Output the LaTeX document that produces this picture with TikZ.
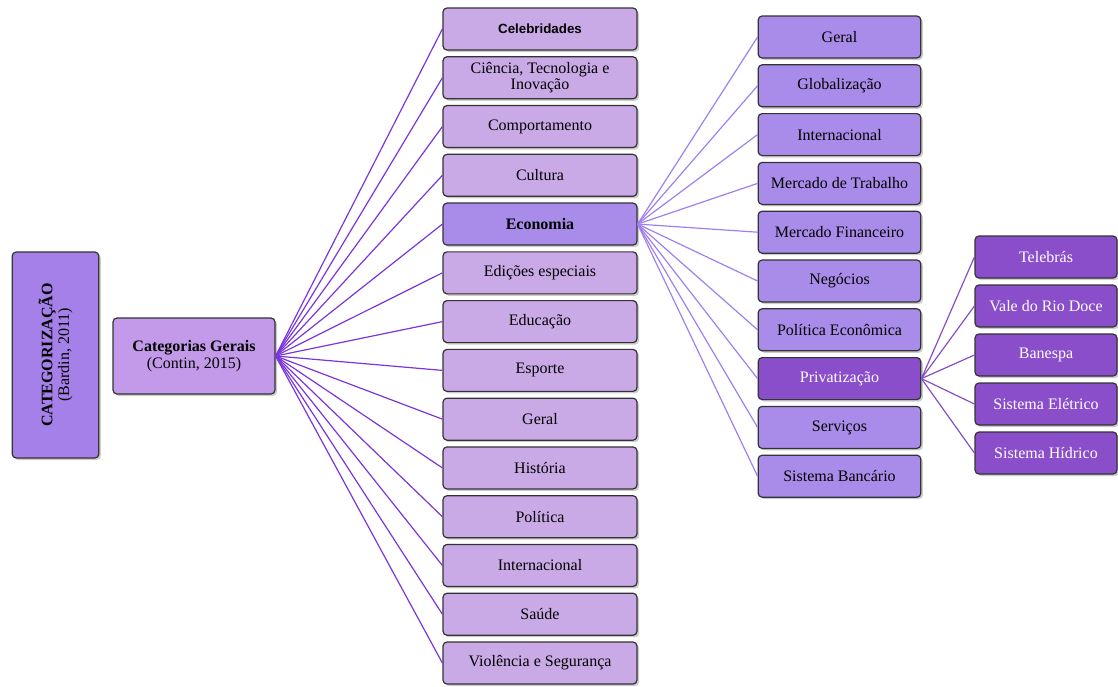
\documentclass[tikz,border=0pt]{standalone}
\usepackage{fontspec}
\setmainfont{Liberation Serif}
\setsansfont{Liberation Sans}
\usetikzlibrary{shadows}

\definecolor{catfill}{HTML}{A580E8}
\definecolor{genfill}{HTML}{C39AEA}
\definecolor{subfill}{HTML}{C9A9E6}
\definecolor{ecofill}{HTML}{A98BE9}
\definecolor{privfill}{HTML}{8B4ECB}
\definecolor{linkA}{HTML}{7B35DC}
\definecolor{linkB}{HTML}{A080F0}
\definecolor{linkC}{HTML}{8650C4}

\begin{document}
\begin{tikzpicture}[x=0.75pt,y=-0.75pt,
    box/.style={draw=black!80, line width=0.9pt, rounded corners=3pt,
      drop shadow={shadow xshift=1.5pt, shadow yshift=-1.5pt, fill=black!40, opacity=.5},
      align=center, inner sep=2pt, font=\fontsize{12}{12.5}\selectfont},
    subbox/.style={box, fill=subfill, minimum width=145.5pt, minimum height=31.5pt},
    ecobox/.style={subbox, fill=ecofill, font=\fontsize{12}{12.5}\selectfont\bfseries},
    econbox/.style={box, fill=ecofill, minimum width=122pt, minimum height=31.5pt},
    privbox/.style={econbox, fill=privfill, text=white},
    leafbox/.style={box, fill=privfill, text=white, minimum width=106.5pt, minimum height=31.5pt},
    link/.style={line width=0.9pt}]
  \useasboundingbox (0,0) rectangle (1118,686);

  %% Left boxes
  \node[box, fill=catfill, minimum width=65pt, minimum height=154.5pt] (cat) at (55.5,355) {};
  \node[rotate=90, align=center, font=\fontsize{12}{12.5}\selectfont] (catlabel) at (cat.center)
    {\textbf{CATEGORIZAÇÃO}\\(Bardin, 2011)};
  \node[box, fill=genfill, minimum width=121.5pt, minimum height=57pt] (gerais) at (194,356)
    {\textbf{Categorias Gerais}\\(Contin, 2015)};

  %% General categories
  \foreach \lab/\sty [count=\i from 0] in {
      {\sffamily\bfseries\fontsize{10}{12}\selectfont Celebridades}/subbox,
      {Ciência, Tecnologia e\\Inovação}/subbox,
      Comportamento/subbox, Cultura/subbox, Economia/ecobox,
      Edições especiais/subbox, Educação/subbox, Esporte/subbox,
      Geral/subbox, História/subbox, Política/subbox,
      Internacional/subbox, Saúde/subbox, Violência e Segurança/subbox}
  {
    \node[\sty] (sub\i) at (540,{29+48.77*\i}) {\lab};
    \draw[link, linkA] (gerais.east) -- (sub\i.west);
  }

  %% Economy
  \foreach \lab/\sty [count=\i from 0] in {
      Geral/econbox, Globalização/econbox, Internacional/econbox,
      Mercado de Trabalho/econbox, Mercado Financeiro/econbox,
      Negócios/econbox, Política Econômica/econbox, Privatização/privbox,
      Serviços/econbox, Sistema Bancário/econbox}
  {
    \node[\sty] (eco\i) at (839.5,{37+48.8*\i}) {\lab};
    \draw[link, linkB] (sub4.east) -- (eco\i.west);
  }

  %% Privatization
  \foreach \lab [count=\i from 0] in {
      Telebrás, Vale do Rio Doce, Banespa, Sistema Elétrico, Sistema Hídrico}
  {
    \node[leafbox] (priv\i) at (1046,{257+49*\i}) {\lab};
    \draw[link, linkC] (eco7.east) -- (priv\i.west);
  }
\end{tikzpicture}
\end{document}
